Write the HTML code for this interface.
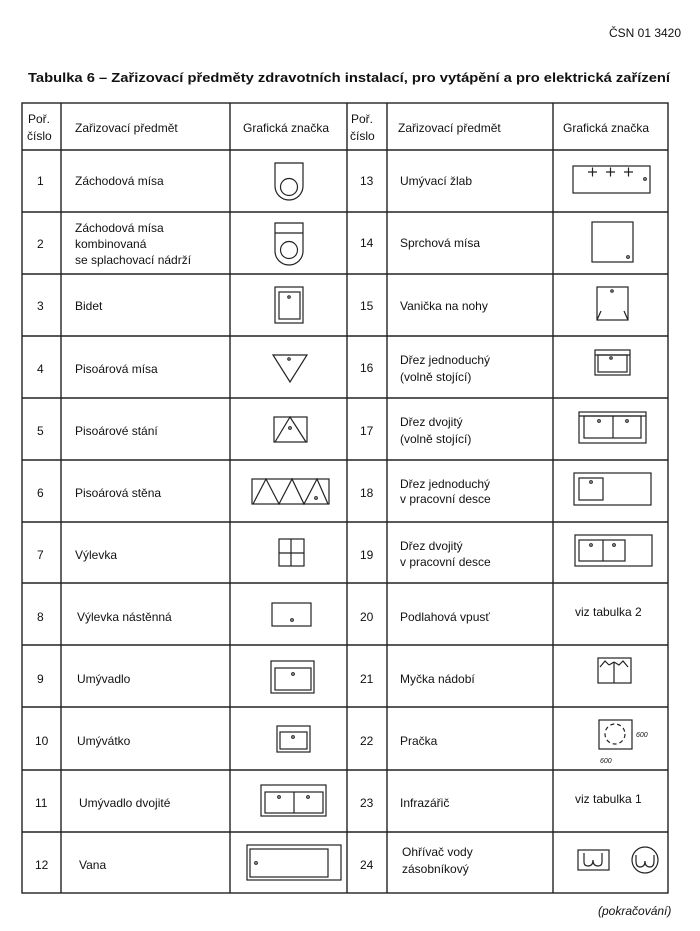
<!DOCTYPE html>
<html><head><meta charset="utf-8"><style>
html,body{margin:0;padding:0;background:#fff;}
svg{display:block;}
text{font-family:"Liberation Sans",sans-serif;fill:#111;}
.t{font-size:12px;}
</style></head><body>
<svg width="700" height="931" viewBox="0 0 700 931" xmlns="http://www.w3.org/2000/svg">
<text x="609" y="37" font-size="12" textLength="72" lengthAdjust="spacingAndGlyphs">ČSN 01 3420</text>
<text x="28" y="82" font-size="13" font-weight="bold" textLength="642" lengthAdjust="spacingAndGlyphs">Tabulka 6 – Zařizovací předměty zdravotních instalací, pro vytápění a pro elektrická zařízení</text>
<g stroke="#222" stroke-width="1.4" fill="none">
<rect x="22" y="103" width="646" height="790"/>
<line x1="22" y1="150" x2="668" y2="150"/>
<line x1="61" y1="103" x2="61" y2="893"/>
<line x1="230" y1="103" x2="230" y2="893"/>
<line x1="347" y1="103" x2="347" y2="893"/>
<line x1="387" y1="103" x2="387" y2="893"/>
<line x1="553" y1="103" x2="553" y2="893"/>
<line x1="22" y1="212" x2="668" y2="212"/>
<line x1="22" y1="274" x2="668" y2="274"/>
<line x1="22" y1="336" x2="668" y2="336"/>
<line x1="22" y1="398" x2="668" y2="398"/>
<line x1="22" y1="460" x2="668" y2="460"/>
<line x1="22" y1="522" x2="668" y2="522"/>
<line x1="22" y1="583" x2="668" y2="583"/>
<line x1="22" y1="645" x2="668" y2="645"/>
<line x1="22" y1="707" x2="668" y2="707"/>
<line x1="22" y1="770" x2="668" y2="770"/>
<line x1="22" y1="832" x2="668" y2="832"/>
</g>
<g class="t" font-size="12">
<text x="28" y="123">Poř.</text><text x="27" y="140">číslo</text>
<text x="75" y="132">Zařizovací předmět</text>
<text x="243" y="132">Grafická značka</text>
<text x="351" y="123">Poř.</text><text x="350" y="140">číslo</text>
<text x="398" y="132">Zařizovací předmět</text>
<text x="563" y="132">Grafická značka</text>
</g>
<g font-size="12">
<text x="37" y="185">1</text><text x="75" y="185">Záchodová mísa</text>
<text x="37" y="248">2</text><text x="75" y="232">Záchodová mísa</text><text x="75" y="248">kombinovaná</text><text x="75" y="264">se splachovací nádrží</text>
<text x="37" y="310">3</text><text x="75" y="310">Bidet</text>
<text x="37" y="373">4</text><text x="75" y="373">Pisoárová mísa</text>
<text x="37" y="435">5</text><text x="75" y="435">Pisoárové stání</text>
<text x="37" y="497">6</text><text x="75" y="497">Pisoárová stěna</text>
<text x="37" y="559">7</text><text x="75" y="559">Výlevka</text>
<text x="37" y="621">8</text><text x="77" y="621">Výlevka nástěnná</text>
<text x="37" y="683">9</text><text x="77" y="683">Umývadlo</text>
<text x="35" y="745">10</text><text x="77" y="745">Umývátko</text>
<text x="35" y="807">11</text><text x="79" y="807">Umývadlo dvojité</text>
<text x="35" y="869">12</text><text x="79" y="869">Vana</text>
<text x="360" y="185">13</text><text x="400" y="185">Umývací žlab</text>
<text x="360" y="247">14</text><text x="400" y="247">Sprchová mísa</text>
<text x="360" y="310">15</text><text x="400" y="310">Vanička na nohy</text>
<text x="360" y="372">16</text><text x="400" y="364">Dřez jednoduchý</text><text x="400" y="381">(volně stojící)</text>
<text x="360" y="435">17</text><text x="400" y="426">Dřez dvojitý</text><text x="400" y="443">(volně stojící)</text>
<text x="360" y="497">18</text><text x="400" y="488">Dřez jednoduchý</text><text x="400" y="503">v pracovní desce</text>
<text x="360" y="559">19</text><text x="400" y="550">Dřez dvojitý</text><text x="400" y="566">v pracovní desce</text>
<text x="360" y="621">20</text><text x="400" y="621">Podlahová vpusť</text>
<text x="575" y="616">viz tabulka 2</text>
<text x="360" y="683">21</text><text x="400" y="683">Myčka nádobí</text>
<text x="360" y="745">22</text><text x="400" y="745">Pračka</text>
<text x="360" y="807">23</text><text x="400" y="807">Infrazářič</text>
<text x="575" y="803">viz tabulka 1</text>
<text x="360" y="869">24</text><text x="402" y="856">Ohřívač vody</text><text x="402" y="873">zásobníkový</text>
</g>
<text x="598" y="915" font-size="12" font-style="italic">(pokračování)</text>
<g stroke="#222" stroke-width="1.2" fill="none">
<!-- 1 -->
<path d="M275 163 H303 V186 A14 14 0 0 1 275 186 Z"/><circle cx="289" cy="187" r="8.5"/>
<!-- 2 -->
<path d="M275 223 H303 V251 A14 14 0 0 1 275 251 Z"/><line x1="275" y1="233" x2="303" y2="233"/><circle cx="289" cy="250" r="8.5"/>
<!-- 3 -->
<rect x="275" y="287" width="28" height="36"/><rect x="279" y="292" width="21" height="27"/><circle cx="289" cy="297" r="1.2"/>
<!-- 4 -->
<path d="M273 355 H307 L290 382 Z"/><circle cx="289" cy="359" r="1.2"/>
<!-- 5 -->
<rect x="274" y="417" width="33" height="25"/><path d="M275 442 L290 417 L306 442"/><circle cx="290" cy="428" r="1.3"/>
<!-- 6 -->
<rect x="252" y="479" width="77" height="25"/><path d="M253 504 L266 479 L279 504 L292 479 L304 504 L317 479 L328 504"/><circle cx="316" cy="498" r="1.3"/>
<!-- 7 -->
<rect x="279" y="539" width="25" height="27"/><line x1="291" y1="539" x2="291" y2="566"/><line x1="279" y1="553" x2="304" y2="553"/>
<!-- 8 -->
<rect x="272" y="603" width="39" height="23"/><circle cx="292" cy="620" r="1.3"/>
<!-- 9 -->
<rect x="271" y="661" width="43" height="32"/><rect x="275" y="668" width="36" height="22"/><circle cx="293" cy="674" r="1.3"/>
<!-- 10 -->
<rect x="277" y="726" width="33" height="26"/><rect x="280" y="732" width="27" height="17"/><circle cx="293" cy="737" r="1.3"/>
<!-- 11 -->
<rect x="261" y="785" width="65" height="31"/><rect x="265" y="792" width="58" height="21"/><line x1="294" y1="792" x2="294" y2="813"/><circle cx="279" cy="797" r="1.3"/><circle cx="308" cy="797" r="1.3"/>
<!-- 12 -->
<rect x="247" y="845" width="94" height="35"/><rect x="250" y="849" width="78" height="28"/><circle cx="256" cy="863" r="1.3"/>
<!-- 13 -->
<rect x="573" y="166" width="77" height="27"/>
<path d="M588 172 H597 M592.5 167.5 V176.5 M606 172 H615 M610.5 167.5 V176.5 M624 172 H633 M628.5 167.5 V176.5"/><circle cx="645" cy="179" r="1.3"/>
<!-- 14 -->
<rect x="592" y="222" width="41" height="40"/><circle cx="628" cy="257" r="1.3"/>
<!-- 15 -->
<rect x="597" y="287" width="31" height="33"/><circle cx="612" cy="291" r="1.2"/><path d="M597 320 L601 311 M628 320 L624 311"/>
<!-- 16 -->
<rect x="595" y="350" width="35" height="25"/><line x1="595" y1="355" x2="630" y2="355"/><rect x="598" y="355" width="29" height="17"/><circle cx="611" cy="358" r="1.2"/>
<!-- 17 -->
<rect x="579" y="412" width="67" height="31"/><line x1="579" y1="416" x2="646" y2="416"/><rect x="584" y="416" width="57" height="22"/><line x1="613" y1="416" x2="613" y2="438"/><circle cx="599" cy="421" r="1.3"/><circle cx="627" cy="421" r="1.3"/>
<!-- 18 -->
<rect x="574" y="473" width="77" height="32"/><rect x="579" y="478" width="24" height="22"/><circle cx="591" cy="482" r="1.3"/>
<!-- 19 -->
<rect x="575" y="535" width="77" height="31"/><rect x="579" y="540" width="46" height="21"/><line x1="603" y1="540" x2="603" y2="561"/><circle cx="591" cy="545" r="1.3"/><circle cx="614" cy="545" r="1.3"/>
<!-- 21 -->
<rect x="598" y="658" width="33" height="25"/><line x1="614" y1="662" x2="614" y2="683"/>
<path d="M600 667 L605 661 L609 665 M614 662 L609 665 M614 662 L619 665 L623 661 L628 667"/>
<!-- 22 -->
<rect x="599" y="720" width="33" height="29"/><circle cx="615" cy="734" r="10" stroke-dasharray="4 3"/>
<!-- 24 -->
<rect x="578" y="850" width="31" height="20"/><path d="M584 853 V862 Q584 866 588 866 Q593 866 593 860 Q593 866 598 866 Q602 866 602 862 V853"/>
<circle cx="645" cy="860" r="13"/><path d="M636 855 V861 Q636 867 640 867 Q645 867 645 861 Q645 867 650 867 Q654 867 654 861 V855"/>
</g>
<text x="636" y="737" font-size="7" font-style="italic" fill="#555">600</text>
<text x="600" y="763" font-size="7" font-style="italic" fill="#555">600</text>
</svg>
</body></html>
